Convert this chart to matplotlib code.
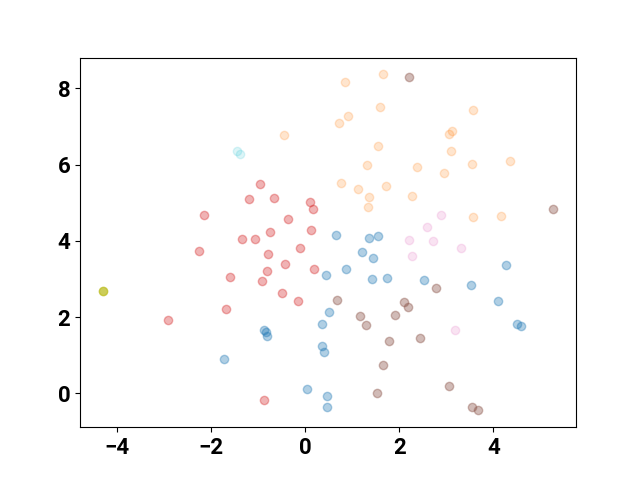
import matplotlib
matplotlib.use('Agg')
import matplotlib.pyplot as plt

plt.rcParams['font.family'] = ['Roboto', 'DejaVu Sans']
plt.rcParams['font.weight'] = 'bold'
plt.rcParams['font.size'] = 16

# cluster points
red_x = [-2.16, -2.25, -1.59, -1.69, -2.92, -1.19, -1.34, -1.06, -0.96, -0.66, 0.11, 0.17,
         -0.37, -0.75, 0.12, -0.79, -0.10, -0.43, -0.82, 0.18, -0.92, -0.49, -0.16, -0.87]
red_y = [4.67, 3.74, 3.05, 2.21, 1.91, 5.09, 4.04, 4.04, 5.49, 5.13, 5.01, 4.83,
         4.57, 4.23, 4.28, 3.65, 3.82, 3.39, 3.20, 3.26, 2.95, 2.62, 2.41, -0.19]

blue_x = [0.66, 1.35, 1.55, 1.20, 1.44, 0.87, 0.45, 1.43, 1.75, 0.50, 0.35, -0.87, -0.84,
          -0.81, 0.35, 0.40, 0.04, 0.46, 0.47, -1.72, 4.28, 2.53, 3.52, 4.09, 4.50, 4.60]
blue_y = [4.15, 4.07, 4.13, 3.72, 3.54, 3.26, 3.10, 2.99, 3.02, 2.14, 1.81, 1.66, 1.61,
          1.50, 1.24, 1.07, 0.11, -0.06, -0.36, 0.89, 3.37, 2.97, 2.84, 2.42, 1.82, 1.77]

orange_x = [1.66, 0.84, 1.60, 0.91, 0.72, -0.45, 1.54, 1.32, 2.37, 0.76, 1.71, 1.13,
            1.36, 2.27, 1.34, 3.57, 3.12, 3.05, 3.10, 4.35, 3.55, 2.96, 3.57, 4.17]
orange_y = [8.37, 8.16, 7.52, 7.27, 7.10, 6.79, 6.49, 6.00, 5.94, 5.53, 5.45, 5.35,
            5.14, 5.18, 4.89, 7.43, 6.88, 6.80, 6.36, 6.10, 6.02, 5.78, 4.63, 4.64]

brown_x = [2.20, 5.28, 2.79, 2.45, 3.06, 3.55, 3.67, 0.67, 2.11, 2.18, 1.16, 1.90,
           1.30, 1.79, 1.66, 1.53]
brown_y = [8.29, 4.84, 2.77, 1.44, 0.18, -0.36, -0.45, 2.44, 2.40, 2.27, 2.02, 2.05,
           1.78, 1.36, 0.75, 0.01]

pink_x = [2.21, 2.89, 2.58, 2.71, 3.31, 2.28, 3.18]
pink_y = [4.01, 4.67, 4.37, 4.00, 3.82, 3.59, 1.65]

cyan_x = [-1.45, -1.38]
cyan_y = [6.35, 6.29]

olive_x = [-4.31]
olive_y = [2.68]

fig, ax = plt.subplots(figsize=(6.4, 4.8), dpi=100)
ax.scatter(red_x, red_y, color='tab:red', alpha=0.35)
ax.scatter(blue_x, blue_y, color='tab:blue', alpha=0.35)
ax.scatter(orange_x, orange_y, color='tab:orange', alpha=0.2)
ax.scatter(brown_x, brown_y, color='tab:brown', alpha=0.4)
ax.scatter(pink_x, pink_y, color='tab:pink', alpha=0.2)
ax.scatter(cyan_x, cyan_y, color='tab:cyan', alpha=0.15)
ax.scatter(olive_x, olive_y, color='tab:olive', alpha=0.75)

fig.savefig('out.png')
